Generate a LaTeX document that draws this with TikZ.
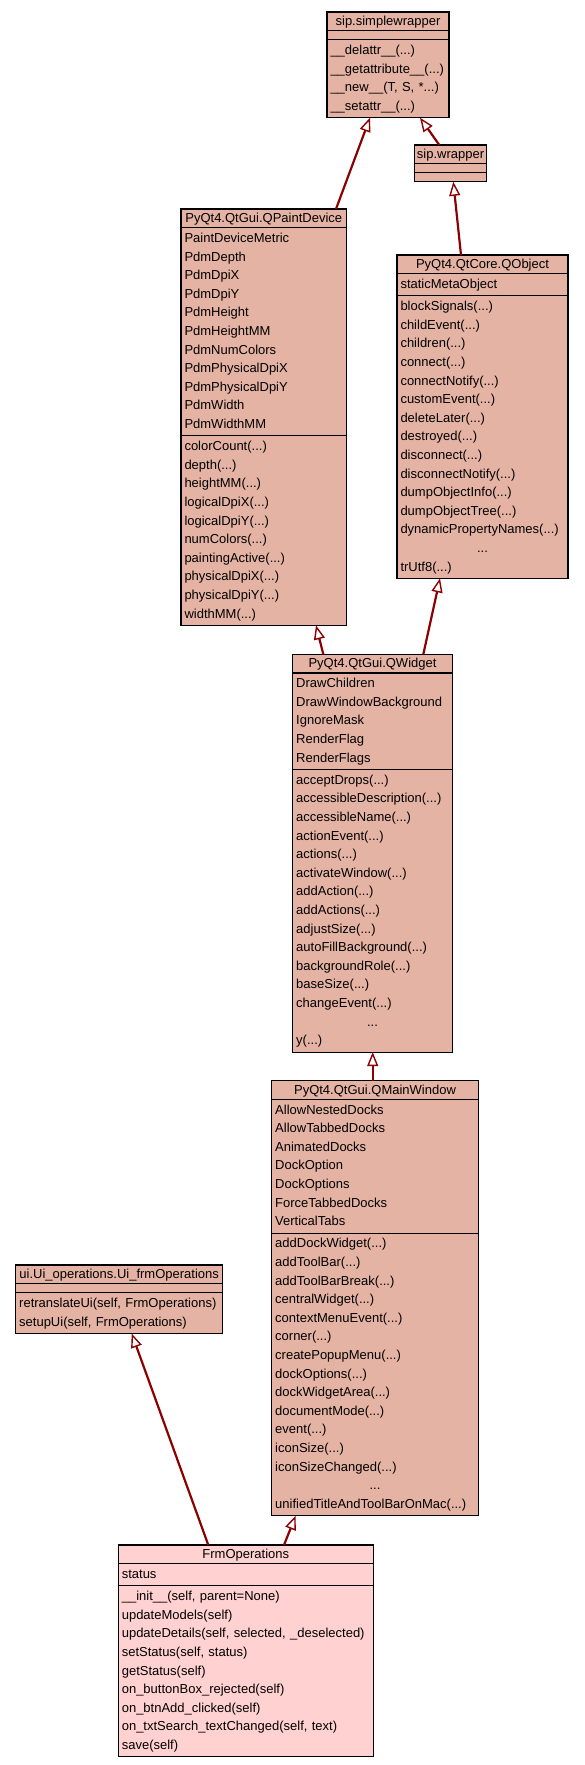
\documentclass[tikz,border=0pt]{standalone}
\usepackage{fontspec}
\setmainfont{Liberation Sans}
\usetikzlibrary{arrows.meta,shapes.multipart}
\definecolor{basefill}{HTML}{E5B3A4}
\definecolor{selffill}{HTML}{FFD1D1}
\definecolor{edgered}{HTML}{8B0000}
\newcommand{\ts}[1]{\makebox[\hsize]{\rule[-3.5pt]{0pt}{15pt}#1}}% title row
\newcommand{\es}{\rule{0pt}{5.5pt}}% empty row
\newcommand{\more}{\makebox[\hsize]{...}}
\hyphenpenalty=10000

\begin{document}
\begin{tikzpicture}[x=1pt,y=-1pt,
  classbox/.style={rectangle split, rectangle split parts=3, draw=black, line width=1.2pt,
    fill=basefill, inner xsep=3.5pt, inner ysep=1.2pt, outer sep=0pt, align=left,
    anchor=north west, font=\fontsize{13}{18.6}\selectfont},
  inherit/.style={draw=edgered, line width=2.2pt, -{Triangle[open,length=14pt,width=11pt,line width=1.4pt]}}]
  \useasboundingbox (0,0) rectangle (584,1765);

  % sip base classes
  \node[classbox, text width=115pt] (sw) at (327,12) {\ts{sip.simplewrapper}
    \nodepart{two}\es
    \nodepart{three}\strut\_\_delattr\_\_(...)\\ \_\_getattribute\_\_(...)\\ \_\_new\_\_(T,~S,~*...)\\ \_\_setattr\_\_(...)\strut};
  \node[classbox, text width=65pt] (wr) at (414.5,145) {\ts{sip.wrapper}
    \nodepart{two}\es
    \nodepart{three}\es};

  % Qt classes
  \node[classbox, text width=158.5pt] (qpd) at (181,209) {\ts{PyQt4.QtGui.QPaintDevice}
    \nodepart{two}\strut PaintDeviceMetric\\ PdmDepth\\ PdmDpiX\\ PdmDpiY\\ PdmHeight\\ PdmHeightMM\\
      PdmNumColors\\ PdmPhysicalDpiX\\ PdmPhysicalDpiY\\ PdmWidth\\ PdmWidthMM\strut
    \nodepart{three}\strut colorCount(...)\\ depth(...)\\ heightMM(...)\\ logicalDpiX(...)\\ logicalDpiY(...)\\
      numColors(...)\\ paintingActive(...)\\ physicalDpiX(...)\\ physicalDpiY(...)\\ widthMM(...)\strut};
  \node[classbox, text width=164pt] (qobj) at (397,255) {\ts{PyQt4.QtCore.QObject}
    \nodepart{two}\strut staticMetaObject\strut
    \nodepart{three}\strut blockSignals(...)\\ childEvent(...)\\ children(...)\\ connect(...)\\ connectNotify(...)\\
      customEvent(...)\\ deleteLater(...)\\ destroyed(...)\\ disconnect(...)\\ disconnectNotify(...)\\
      dumpObjectInfo(...)\\ dumpObjectTree(...)\\ dynamicPropertyNames(...)\\ \more\\ trUtf8(...)\strut};
  \node[classbox, text width=152.6pt] (qw) at (292.7,654.3) {\ts{PyQt4.QtGui.QWidget}
    \nodepart{two}\strut DrawChildren\\ DrawWindowBackground\\ IgnoreMask\\ RenderFlag\\ RenderFlags\strut
    \nodepart{three}\strut acceptDrops(...)\\ accessibleDescription(...)\\ accessibleName(...)\\ actionEvent(...)\\
      actions(...)\\ activateWindow(...)\\ addAction(...)\\ addActions(...)\\ adjustSize(...)\\
      autoFillBackground(...)\\ backgroundRole(...)\\ baseSize(...)\\ changeEvent(...)\\ \more\\ y(...)\strut};
  \node[classbox, text width=199.6pt] (qmw) at (271.7,1080.7) {\ts{PyQt4.QtGui.QMainWindow}
    \nodepart{two}\strut AllowNestedDocks\\ AllowTabbedDocks\\ AnimatedDocks\\ DockOption\\ DockOptions\\
      ForceTabbedDocks\\ VerticalTabs\strut
    \nodepart{three}\strut addDockWidget(...)\\ addToolBar(...)\\ addToolBarBreak(...)\\ centralWidget(...)\\
      contextMenuEvent(...)\\ corner(...)\\ createPopupMenu(...)\\ dockOptions(...)\\ dockWidgetArea(...)\\
      documentMode(...)\\ event(...)\\ iconSize(...)\\ iconSizeChanged(...)\\ \more\\
      unifiedTitleAndToolBarOnMac(...)\strut};

  % generated ui class and the form itself
  \node[classbox, text width=200pt] (ui) at (15.7,1265) {\ts{ui.Ui\_operations.Ui\_frmOperations}
    \nodepart{two}\es
    \nodepart{three}\strut retranslateUi(self,~FrmOperations)\\ setupUi(self,~FrmOperations)\strut};
  \node[classbox, fill=selffill, text width=248pt] (frm) at (118.3,1545) {\ts{FrmOperations}
    \nodepart{two}\strut status\strut
    \nodepart{three}\strut \_\_init\_\_(self,~parent=None)\\ updateModels(self)\\
      updateDetails(self,~selected,~\_deselected)\\ setStatus(self,~status)\\ getStatus(self)\\
      on\_buttonBox\_rejected(self)\\ on\_btnAdd\_clicked(self)\\ on\_txtSearch\_textChanged(self,~text)\\ save(self)\strut};

  % Inheritance
  \draw[inherit] ([xshift=155pt]qpd.north west) -- ([xshift=43pt]sw.south west);
  \draw[inherit] ([xshift=24.8pt]wr.north west) -- ([xshift=93pt]sw.south west);
  \draw[inherit] ([xshift=64pt]qobj.north west) -- ([xshift=38.8pt]wr.south west);
  \draw[inherit] ([xshift=30.6pt]qw.north west) -- ([xshift=135pt]qpd.south west);
  \draw[inherit] ([xshift=130.6pt]qw.north west) -- ([xshift=43pt]qobj.south west);
  \draw[inherit] ([xshift=101pt]qmw.north west) -- ([xshift=80pt]qw.south west);
  \draw[inherit] ([xshift=90pt]frm.north west) -- ([xshift=116pt]ui.south west);
  \draw[inherit] ([xshift=165.7pt]frm.north west) -- ([xshift=24pt]qmw.south west);
\end{tikzpicture}
\end{document}
